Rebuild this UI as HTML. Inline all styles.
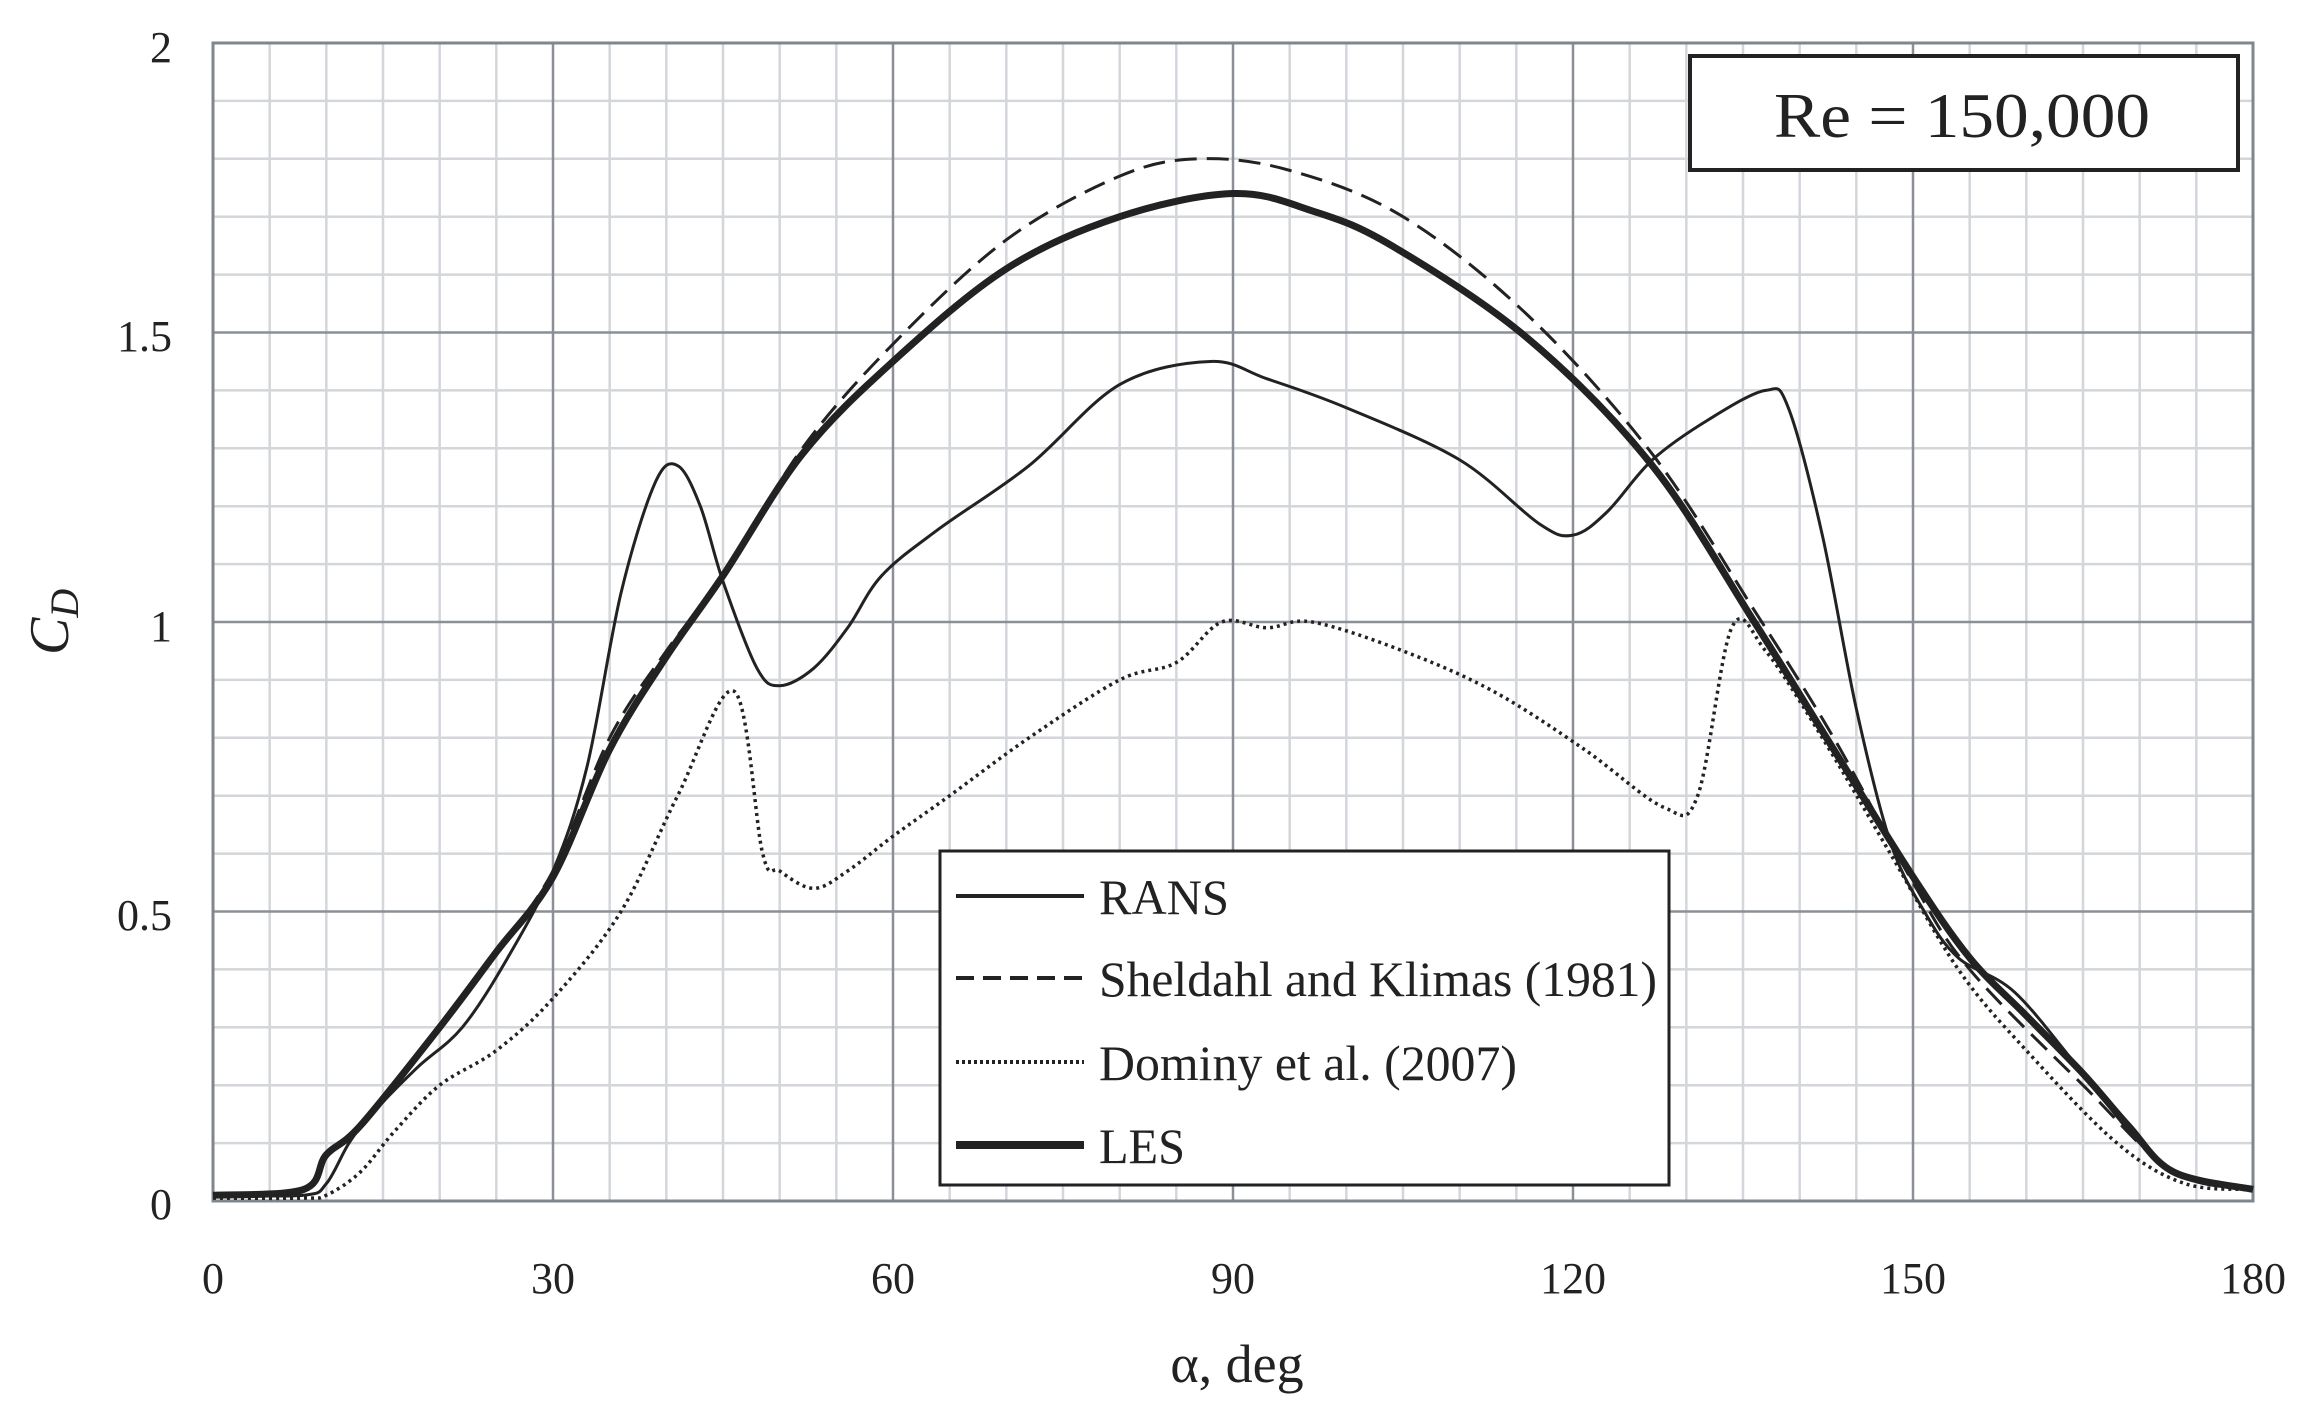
<!DOCTYPE html>
<html><head><meta charset="utf-8"><style>
html,body{margin:0;padding:0;background:#fff;width:2313px;height:1422px;overflow:hidden}
svg text{font-family:"Liberation Serif",serif;fill:#222}
</style></head><body>
<svg id="s" width="2313" height="1422" xmlns="http://www.w3.org/2000/svg">
<g id="grid"></g>
<rect x="213" y="43" width="2040" height="1158" fill="none" stroke="#7f868c" stroke-width="3"/>
<g font-size="44" text-anchor="end">
<text x="172" y="62">2</text><text x="172" y="351">1.5</text><text x="172" y="641">1</text><text x="172" y="930">0.5</text><text x="172" y="1219">0</text>
</g>
<g font-size="44" text-anchor="middle">
<text x="213" y="1293">0</text><text x="553" y="1293">30</text><text x="893" y="1293">60</text><text x="1233" y="1293">90</text><text x="1573" y="1293">120</text><text x="1913" y="1293">150</text><text x="2253" y="1293">180</text>
</g>
<text x="1237" y="1382" font-size="54" text-anchor="middle">α, deg</text>
<text x="0" y="0" font-size="56" font-style="italic" transform="translate(68,655) rotate(-90)">C<tspan font-size="40" dy="10">D</tspan></text>
<g id="curves"></g>
<rect x="1690" y="56" width="548" height="114" fill="#fff" stroke="#222" stroke-width="4"/>
<text x="1774" y="137" font-size="64" textLength="376" lengthAdjust="spacingAndGlyphs">Re = 150,000</text>
<rect x="940" y="851" width="729" height="334" fill="#fff" stroke="#222" stroke-width="3"/>
<line x1="956" y1="896" x2="1084" y2="896" stroke="#222" stroke-width="4"/>
<line x1="956" y1="978" x2="1084" y2="978" stroke="#222" stroke-width="4" stroke-dasharray="18,9"/>
<line x1="956" y1="1062" x2="1084" y2="1062" stroke="#222" stroke-width="4" stroke-dasharray="3,3"/>
<line x1="956" y1="1145" x2="1084" y2="1145" stroke="#222" stroke-width="8"/>
<g font-size="50">
<text x="1099" y="914" textLength="130" lengthAdjust="spacingAndGlyphs">RANS</text>
<text x="1099" y="996" textLength="558" lengthAdjust="spacingAndGlyphs">Sheldahl and Klimas (1981)</text>
<text x="1099" y="1080" textLength="418" lengthAdjust="spacingAndGlyphs">Dominy et al. (2007)</text>
<text x="1099" y="1163" textLength="86" lengthAdjust="spacingAndGlyphs">LES</text>
</g>
</svg>
<script>
const NS="http://www.w3.org/2000/svg";
const X=d=>213+d*2040/180, Y=c=>1201-c*579;
const g=document.getElementById('grid');
function ln(p,x1,y1,x2,y2,c,w){const l=document.createElementNS(NS,'line');l.setAttribute('x1',x1);l.setAttribute('y1',y1);l.setAttribute('x2',x2);l.setAttribute('y2',y2);l.setAttribute('stroke',c);l.setAttribute('stroke-width',w);p.appendChild(l);}
for(let d=5;d<180;d+=5){if(d%30)ln(g,X(d),43,X(d),1201,'#d3d6da',2.5);}
for(let i=1;i<20;i++){if(i%5)ln(g,213,Y(i*0.1),2253,Y(i*0.1),'#d3d6da',2.5);}
for(let d=30;d<180;d+=30)ln(g,X(d),43,X(d),1201,'#8a9096',2.5);
for(let i=1;i<4;i++)ln(g,213,Y(i*0.5),2253,Y(i*0.5),'#8a9096',2.5);
function path(pts,w,dash){
 const P=pts.map(p=>[X(p[0]),Y(p[1])]);let d='M'+P[0][0]+','+P[0][1];
 for(let i=0;i<P.length-1;i++){const p0=P[Math.max(i-1,0)],p1=P[i],p2=P[i+1],p3=P[Math.min(i+2,P.length-1)];
  d+=' C'+(p1[0]+(p2[0]-p0[0])/6)+','+(p1[1]+(p2[1]-p0[1])/6)+' '+(p2[0]-(p3[0]-p1[0])/6)+','+(p2[1]-(p3[1]-p1[1])/6)+' '+p2[0]+','+p2[1];}
 const e=document.createElementNS(NS,'path');e.setAttribute('d',d);e.setAttribute('fill','none');e.setAttribute('stroke','#222');e.setAttribute('stroke-width',w);if(dash)e.setAttribute('stroke-dasharray',dash);document.getElementById('curves').appendChild(e);}
const dom=[[0,0.005],[8,0.005],[10,0.01],[13,0.05],[16,0.12],[20,0.2],[25,0.26],[30,0.35],[36,0.5],[41,0.7],[46,0.88],[48.5,0.6],[50,0.57],[53,0.54],[56,0.57],[60,0.63],[65,0.7],[72,0.8],[80,0.9],[85,0.93],[89,1.0],[93,0.99],[97,1.0],[105,0.95],[113,0.88],[121,0.78],[128,0.68],[131,0.7],[134,0.99],[137,0.95],[142,0.8],[148,0.6],[154,0.4],[160,0.26],[168,0.1],[174,0.03],[180,0.02]];
const shel=[[0,0.01],[8,0.02],[10,0.08],[13,0.13],[20,0.3],[25,0.43],[30,0.57],[35,0.8],[40,0.95],[45,1.08],[52,1.3],[60,1.48],[70,1.66],[80,1.77],[87,1.8],[95,1.78],[105,1.7],[116,1.53],[127,1.29],[136,1.02],[143,0.8],[150,0.55],[155,0.4],[165,0.2],[173,0.05],[180,0.02]];
const les=[[0,0.01],[8,0.02],[10,0.08],[13,0.13],[20,0.3],[25,0.43],[30,0.56],[35,0.78],[40,0.94],[45,1.08],[52,1.29],[60,1.45],[70,1.61],[80,1.7],[90,1.74],[97,1.71],[104,1.65],[116,1.49],[127,1.27],[136,1.0],[143,0.78],[150,0.56],[155,0.42],[160,0.32],[165,0.22],[169,0.13],[173,0.05],[180,0.02]];
const rans=[[0,0.01],[8,0.01],[10,0.03],[12,0.1],[14,0.15],[18,0.23],[22,0.3],[26,0.42],[30,0.57],[33,0.75],[36,1.05],[39,1.24],[41,1.27],[43,1.2],[45,1.07],[48,0.92],[50,0.89],[53,0.92],[56,0.99],[59,1.08],[64,1.16],[72,1.27],[80,1.41],[88,1.45],[93,1.42],[100,1.37],[110,1.28],[117,1.17],[120,1.15],[123,1.19],[127,1.28],[132,1.35],[137,1.4],[139,1.37],[142,1.15],[145,0.85],[148,0.62],[151,0.5],[154,0.42],[159,0.36],[165,0.22],[170,0.1],[174,0.04],[180,0.02]];
path(dom,3.5,'3,4');path(shel,3,'22,10');path(rans,3);path(les,7);
</script>
</body></html>
